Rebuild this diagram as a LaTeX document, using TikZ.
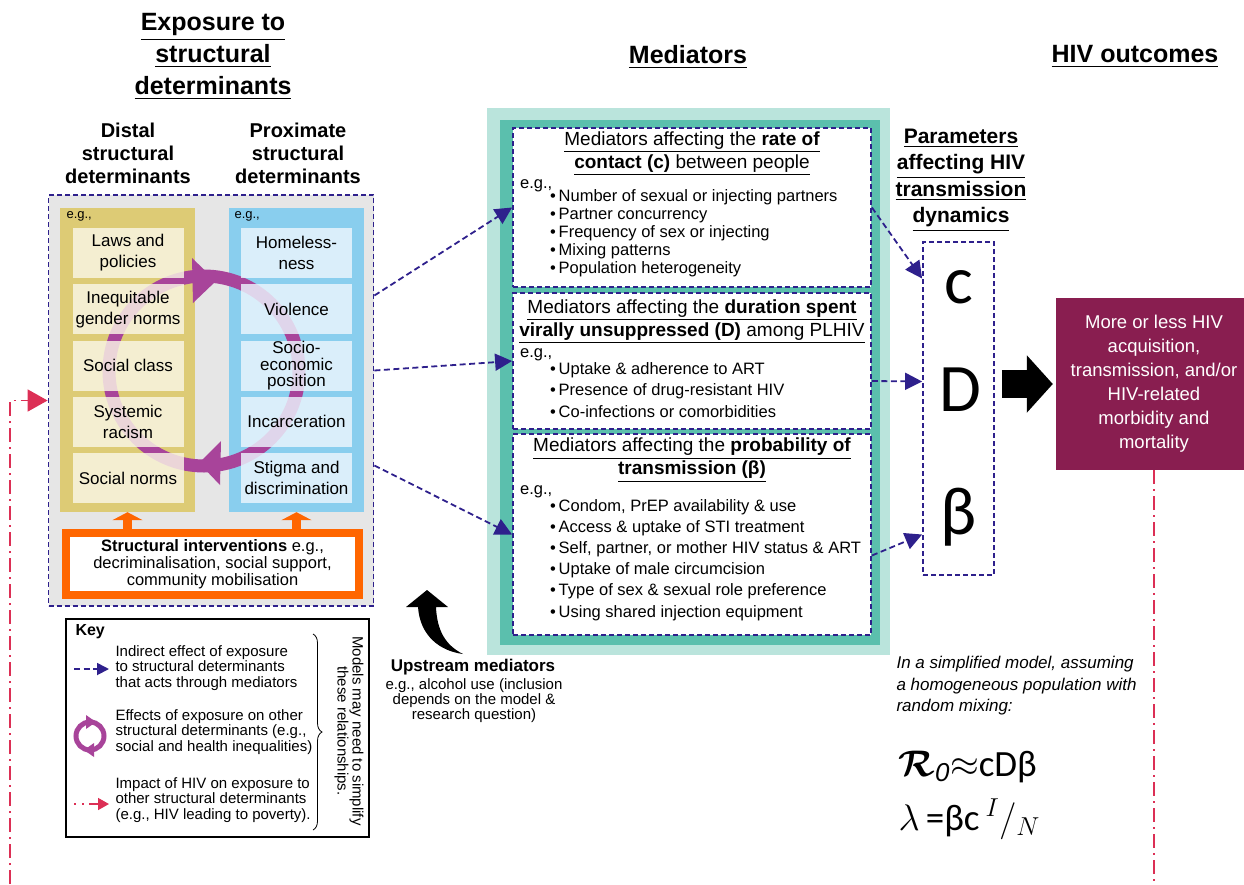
\RequirePackage{fix-cm}
\documentclass[tikz,border=0pt]{standalone}
\usepackage{amsmath,bm}
\usepackage{fontspec}
\setmainfont{Liberation Sans}
\newfontfamily\calib{Carlito}
\usetikzlibrary{arrows.meta,positioning,decorations.pathreplacing}

\definecolor{navy}{RGB}{46,32,140}
\definecolor{loopviolet}{RGB}{168,68,154}
\definecolor{distalgold}{RGB}{221,203,117}
\definecolor{proxblue}{RGB}{137,206,238}
\definecolor{cream}{RGB}{250,246,230}
\definecolor{iceblue}{RGB}{236,246,253}
\definecolor{tealdark}{RGB}{91,191,173}
\definecolor{teallight}{RGB}{186,228,220}
\definecolor{outcomered}{RGB}{137,30,80}
\definecolor{hivred}{RGB}{220,47,85}
\definecolor{intervorange}{RGB}{255,102,0}
\definecolor{expogrey}{RGB}{230,230,230}

\newcommand{\fsz}[2]{\fontsize{#1}{#2}\selectfont}
\newcommand{\uln}[1]{\underline{#1}}

\begin{document}
\begin{tikzpicture}[x=1pt, y=-1pt,
    coltitle/.style={font=\bfseries\fsz{25}{32}, align=center},
    subtitle/.style={font=\bfseries\fsz{20}{23}, align=center},
    detbox/.style={minimum width=111pt, minimum height=50pt, inner sep=0pt, align=center,
                   fill opacity=0.82, text opacity=1},
    navydash/.style={draw=navy, line width=1.8pt, dash pattern=on 5pt off 3pt},
    medbox/.style={navydash, fill=white, minimum width=358pt},
    medtitle/.style={font=\fsz{19}{23}, align=center},
    meditem/.style={anchor=base west, inner sep=0pt, font=\fsz{16.5}{20}},
    navyarrow/.style={navy, line width=1.8pt, dash pattern=on 6pt off 3.5pt, -{Triangle[length=17pt,width=17pt]}},
    hivloop/.style={hivred, line width=1.6pt, dash pattern=on 14pt off 5pt on 2pt off 5pt},
    keytext/.style={anchor=west, align=left, font=\fsz{15}{15.5}},
  ]
\useasboundingbox (0,0) rectangle (1244,884);

% Column titles
\node[coltitle] (exptitle) at (213,57) {\uln{Exposure to}\\\uln{structural}\\\uln{determinants}};
\node[coltitle] (medtitle) at (688,57) {\uln{Mediators}};
\node[coltitle] (outtitle) at (1135,57) {\uln{HIV outcomes}};
\node[subtitle] (distaltitle) at (128,153) {Distal\\structural\\determinants};
\node[subtitle] (proxtitle) at (298,153) {Proximate\\structural\\determinants};

% Mediators background
\fill[teallight] (487,108) rectangle (890,655);
\fill[tealdark] (500,120) rectangle (880,645);

% Exposure to structural determinants
\node[navydash, fill=expogrey, minimum width=325pt, minimum height=411pt] (expo) at (211,400.5) {};
\node[fill=distalgold, minimum width=135pt, minimum height=304pt] (distal) at (127.5,360) {};
\node[fill=proxblue, minimum width=135pt, minimum height=304pt] (proximate) at (296.5,360) {};
\node[anchor=west, font=\fsz{13}{15}] (distaleg) at (63,216) {e.g.,};
\node[anchor=west, font=\fsz{13}{15}] (proxeg) at (231,216) {e.g.,};

% Loop between determinants
\draw[loopviolet, line width=13pt] (204,371) circle[radius=95pt];
\fill[loopviolet] (192,258) -- (216,281) -- (193,303) -- cycle;
\fill[loopviolet] (221,441) -- (199,463) -- (220,485) -- cycle;

\foreach \txt/\lsk [count=\i] in {{Laws and\\policies}/21, {Inequitable\\gender norms}/21,
    {Social class}/21, {Systemic\\racism}/21, {Social norms}/21}
  \node[detbox, fill=cream, font=\fsz{17}{\lsk}] (d\i) at (128,{253+56.3*(\i-1)}) {\txt};
\foreach \txt/\lsk [count=\i] in {{Homeless-\\ness}/21, {Violence}/21,
    {Socio-\\economic\\position}/16.5, {Incarceration}/21, {Stigma and\\discrimination}/21}
  \node[detbox, fill=iceblue, font=\fsz{17}{\lsk}] (p\i) at (296.5,{253+56.3*(\i-1)}) {\txt};

% Structural interventions
\node[draw=intervorange, line width=8pt, fill=white, minimum width=293pt, minimum height=62pt,
      align=center, font=\fsz{16.5}{17}] (interv) at (212.5,564)
  {\textbf{Structural interventions} e.g.,\\decriminalisation, social support,\\community mobilisation};
\foreach \col in {distal, proximate}
  \draw[intervorange, line width=9pt, -{Triangle[length=8pt,width=30pt]}] (interv.north -| \col.south) -- (\col.south);

% Mediator boxes
\node[medbox, minimum height=159pt] (medc) at (692,207.5) {};
\node[medbox, minimum height=136pt] (medD) at (692,361) {};
\node[medbox, minimum height=201pt] (medb) at (692,534.5) {};

\node[medtitle] (medctitle) at (692,153.5)
  {\uln{Mediators affecting the \textbf{rate of}}\\\uln{\textbf{contact (c)} between people}};
\node[meditem] (medceg) at (520,188) {e.g.,};
\foreach \txt [count=\i] in {{Number of sexual or injecting partners}, {Partner concurrency},
    {Frequency of sex or injecting}, {Mixing patterns}, {Population heterogeneity}}
  \node[meditem] (c\i) at (550,{201+18*(\i-1)}) {\textbullet\,\txt};

\node[medtitle] (medDtitle) at (692,321.5)
  {\uln{Mediators affecting the \textbf{duration spent}}\\\uln{\textbf{virally unsuppressed (D)} among PLHIV}};
\node[meditem] (medDeg) at (520,357) {e.g.,};
\foreach \txt [count=\i] in {{Uptake \& adherence to ART}, {Presence of drug-resistant HIV},
    {Co-infections or comorbidities}}
  \node[meditem] (D\i) at (550,{374+21.5*(\i-1)}) {\textbullet\,\txt};

\node[medtitle] (medbtitle) at (692,460)
  {\uln{Mediators affecting the \textbf{probability of}}\\\uln{\textbf{transmission (β)}}};
\node[meditem] (medbeg) at (520,494) {e.g.,};
\foreach \txt [count=\i] in {{Condom, PrEP availability \& use}, {Access \& uptake of STI treatment},
    {Self, partner, or mother HIV status \& ART}, {Uptake of male circumcision},
    {Type of sex \& sexual role preference}, {Using shared injection equipment}}
  \node[meditem] (b\i) at (550,{511+21.2*(\i-1)}) {\textbullet\,\txt};

% Indirect effects through mediators
\draw[navyarrow] ([yshift=105pt]expo.east) -- (medc.west);
\draw[navyarrow] ([yshift=30pt]expo.east) -- (medD.west);
\draw[navyarrow] ([yshift=-65pt]expo.east) -- (medb.west);

% Parameters
\node[font=\bfseries\fsz{21}{26.5}, align=center] (paramtitle) at (961,180)
  {\uln{Parameters}\\\uln{affecting HIV}\\\uln{transmission}\\\uln{dynamics}};
\node[navydash, minimum width=71pt, minimum height=333pt] (params) at (958.5,408.5) {};
\node[font=\calib\fsz{68}{70}] (pc) at (959,287) {c};
\node[font=\calib\fsz{68}{70}] (pD) at (960,390) {D};
\node[font=\calib\fsz{68}{70}] (pb) at (959,517) {β};

\draw[navyarrow] (medc.east) -- ([yshift=130pt]params.west);
\draw[navyarrow] ([yshift=-20pt]medD.east) -- ([yshift=27pt]params.west);
\draw[navyarrow] ([yshift=-21pt]medb.east) -- ([yshift=-126pt]params.west);

% HIV outcomes
\node[fill=outcomered, minimum width=196pt, minimum height=172pt, text=white, align=center,
      font=\fsz{18.5}{24}] (outcome) at (1154,384)
  {More or less HIV\\acquisition,\\transmission, and/or\\HIV-related\\morbidity and\\mortality};
\draw[line width=28pt, -{Triangle[length=26pt,width=56pt]}, shorten <=7pt, shorten >=3pt]
  (params.east |- outcome.west) -- (outcome.west);

% Impact of HIV back on exposure
\coordinate (loopright) at (1154,884);
\coordinate (loopleft) at (10,884);
\coordinate (loopcorner) at (10,400.5);
\draw[hivloop] (outcome.south) -- (loopright);
\draw[hivloop, -{Triangle[length=20pt,width=22pt]}] (loopleft) -- (loopcorner) -- (expo.west);

% Upstream mediators
\fill (427,590) -- (448,607) -- (436,607) .. controls (437,630) and (445,645) .. (463,654)
  .. controls (440,651) and (420,636) .. (418,607) -- (406,607) -- cycle;
\node[font=\bfseries\fsz{17}{20}] (upstream) at (473,667) {Upstream mediators};
\node[align=center, font=\fsz{15}{15}] (upnote) at (474,701)
  {e.g., alcohol use (inclusion\\depends on the model \&\\research question)};

% Key
\node[draw, line width=1.2pt, minimum width=303pt, minimum height=218pt] (key) at (217.5,728) {};
\node[anchor=west, font=\bfseries\fsz{16}{18}] (keytitle) at (72,632) {Key};
\node[keytext] (k1) at (112,668) {Indirect effect of exposure\\to structural determinants\\that acts through mediators};
\node[keytext] (k2) at (112,732) {Effects of exposure on other\\structural determinants (e.g.,\\social and health inequalities)};
\node[keytext] (k3) at (112,800) {Impact of HIV on exposure to\\other structural determinants\\(e.g., HIV leading to poverty).};
\coordinate (k1start) at (74,669);
\coordinate (k3start) at (74,804);
\draw[navyarrow, -{Triangle[length=12pt,width=12pt]}, shorten >=3pt] (k1start) -- (k1start -| k1.west);
\draw[hivred, line width=1.6pt, dash pattern=on 2pt off 6pt on 2pt off 5pt on 40pt off 0pt,
      -{Triangle[length=11pt,width=12pt]}, shorten >=3pt] (k3start) -- (k3start -| k3.west);
\draw[loopviolet, line width=5pt] (90,736) circle[radius=14pt];
\fill[loopviolet] (86,715) -- (96,722) -- (86,729) -- cycle;
\fill[loopviolet] (94,743) -- (84,750) -- (94,757) -- cycle;
\draw[decorate, decoration={brace, amplitude=9pt}, line width=0.8pt] (313,634) -- (313,830);
\node[rotate=-90, align=center, font=\fsz{15}{15}] (simplify) at (349,731)
  {Models may need to simplify\\these relationships.};

% Simplified model
\node[anchor=west, align=left, font=\itshape\fsz{17}{21.5}] (simplenote) at (893,686)
  {In a simplified model, assuming\\a homogeneous population with\\random mixing:};
\node[anchor=base west, font=\calib\fsz{37}{40}] (rzero) at (895,776)
  {$\bm{\mathcal{R}}_{\mathit{0}}$$\approx$cDβ};
\node[anchor=base west, font=\calib\fsz{37}{40}] (lambda) at (895,830)
  {$\lambda$\,=βc\,${}^{I}/_{N}$};
\end{tikzpicture}
\end{document}
